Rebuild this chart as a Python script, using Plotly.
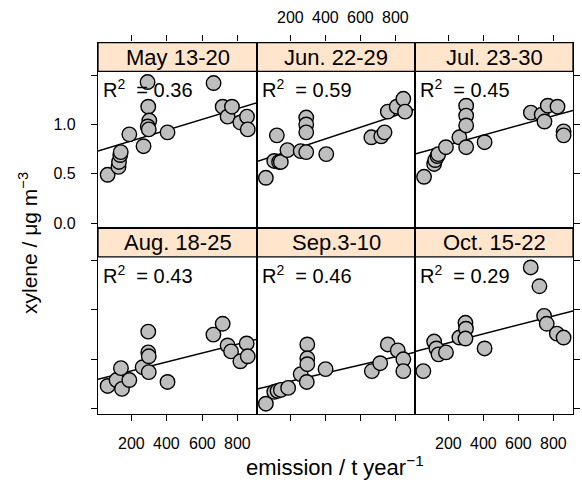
import plotly.graph_objects as go

PANELS = ["May 13-20", "Jun. 22-29", "Jul. 23-30", "Aug. 18-25", "Sep.3-10", "Oct. 15-22"]
R2 = ["0.36", "0.59", "0.45", "0.43", "0.46", "0.29"]

X_MAY = [61, 123, 126, 133, 136, 185, 266, 289, 293, 299, 290, 296, 403, 666, 718, 746, 771, 819, 857, 861]
Y_MAY = [0.49, 0.57, 0.62, 0.69, 0.72, 0.90, 0.78, 1.43, 1.18, 1.04, 0.98, 0.95, 0.92, 1.42, 1.18, 1.08, 1.18, 1.02, 1.08, 0.95]

X_JUN = [57, 105, 120, 133, 143, 181, 257, 289, 289, 289, 289, 404, 663, 720, 739, 758, 809, 847, 857]
Y_JUN = [0.46, 0.63, 0.89, 0.62, 0.62, 0.74, 0.73, 1.07, 1.00, 0.92, 0.72, 0.70, 0.87, 0.88, 0.92, 1.13, 1.18, 1.26, 1.13]

X_JUL = [58, 116, 122, 135, 140, 184, 261, 300, 300, 300, 300, 406, 672, 734, 750, 769, 825, 860, 860]
Y_JUL = [0.47, 0.60, 0.64, 0.68, 0.70, 0.77, 0.87, 1.19, 1.09, 0.99, 0.77, 0.82, 1.12, 1.10, 1.03, 1.19, 1.18, 0.93, 0.89]

X_AUG = [61, 112, 137, 143, 185, 261, 293, 293, 296, 296, 403, 665, 718, 746, 766, 819, 855, 861]
Y_AUG = [0.23, 0.29, 0.41, 0.20, 0.29, 0.42, 0.78, 0.57, 0.53, 0.37, 0.27, 0.75, 0.86, 0.64, 0.58, 0.48, 0.66, 0.53]

X_SEP = [57, 105, 124, 143, 185, 257, 295, 295, 295, 292, 400, 666, 714, 758, 815, 847, 847]
Y_SEP = [0.05, 0.17, 0.18, 0.19, 0.21, 0.35, 0.65, 0.51, 0.45, 0.27, 0.40, 0.38, 0.46, 0.65, 0.59, 0.50, 0.38]

X_OCT = [54, 116, 129, 141, 184, 261, 296, 299, 296, 406, 671, 721, 748, 763, 821, 860]
Y_OCT = [0.38, 0.68, 0.61, 0.55, 0.57, 0.72, 0.87, 0.81, 0.71, 0.61, 1.43, 1.24, 0.94, 0.86, 0.76, 0.72]

FIT_INTERCEPT = [0.728, 0.622, 0.697, 0.296, 0.196, 0.577]
FIT_SLOPE = [0.000538, 0.000582, 0.000488, 0.000445, 0.000412, 0.000452]

XTICKS = [200, 400, 600, 800]
XTICK_LABELS = ["200", "400", "600", "800"]
YTICKS = [0.0, 0.5, 1.0, 1.5]
YTICK_LABELS = ["0.0", "0.5", "1.0", ""]

XS = [X_MAY, X_JUN, X_JUL, X_AUG, X_SEP, X_OCT]
YS = [Y_MAY, Y_JUN, Y_JUL, Y_AUG, Y_SEP, Y_OCT]

# layout geometry (pixels)
W, H = 582, 486
COL_EDGES = [98, 257, 415, 573]
ROW_TOP = [43, 230]      # strip tops
ROW_BOTTOM = [230, 417]  # panel bottoms
X_RANGE = [6, 914]
Y_RANGE = [-0.05, 1.829]
STRIP_LOW = 1.538
TOP_LABEL_Y = 18      # px, centre of top tick labels
BOTTOM_LABEL_Y = 447  # px, centre of bottom tick labels

FONT = "Arial, Liberation Sans, sans-serif"
STRIP_COLOR = "#FFE5CC"
POINT_COLOR = "#BEBEBE"
LW = 1.3

fig = go.Figure()
layout = dict(
    width=W, height=H, margin=dict(l=0, r=0, t=0, b=0),
    paper_bgcolor="white", plot_bgcolor="white", showlegend=False,
    font=dict(family=FONT, color="black", size=16),
)
shapes = []
annotations = []

for i in range(6):
    row, col = divmod(i, 3)
    n = i + 1
    xa, ya = f"x{n}", f"y{n}"
    xkey = "xaxis" if n == 1 else f"xaxis{n}"
    ykey = "yaxis" if n == 1 else f"yaxis{n}"
    xref = "x" if n == 1 else f"x{n}"
    yref = "y" if n == 1 else f"y{n}"

    # regression line across panel limits
    lx = X_RANGE
    ly = [FIT_INTERCEPT[i] + FIT_SLOPE[i] * v for v in lx]
    fig.add_trace(go.Scatter(x=lx, y=ly, mode="lines", xaxis=xa, yaxis=ya,
                             line=dict(color="black", width=1.5), hoverinfo="skip"))
    fig.add_trace(go.Scatter(x=XS[i], y=YS[i], mode="markers", xaxis=xa, yaxis=ya,
                             marker=dict(size=14.5, color=POINT_COLOR,
                                         line=dict(color="black", width=1.4))))

    x0p = COL_EDGES[col] / W
    x1p = COL_EDGES[col + 1] / W
    y0p = 1 - ROW_BOTTOM[row] / H
    y1p = 1 - ROW_TOP[row] / H

    top_row = row == 0
    show_xlabels = (col == 1) if top_row else (col != 1)
    layout[xkey] = dict(
        domain=[x0p, x1p], anchor=yref, range=X_RANGE, side="top" if top_row else "bottom",
        showgrid=False, zeroline=False, showline=True, mirror=True,
        linecolor="black", linewidth=LW,
        ticks="outside", ticklen=6, tickwidth=1.4, tickcolor="black",
        tickvals=XTICKS, showticklabels=False,
    )
    if show_xlabels:
        ly_px = TOP_LABEL_Y if top_row else BOTTOM_LABEL_Y
        for tv, tt in zip(XTICKS, XTICK_LABELS):
            annotations.append(dict(xref=xref, yref="paper", x=tv, y=1 - ly_px / H,
                                    text=tt, showarrow=False, font=dict(size=16),
                                    xanchor="center", yanchor="middle"))
    ydict = dict(
        domain=[y0p, y1p], anchor=xref, range=Y_RANGE,
        showgrid=False, zeroline=False, showline=True, mirror=True,
        linecolor="black", linewidth=LW, tickfont=dict(size=16),
    )
    if col == 0:
        ydict.update(side="left", ticks="outside", ticklen=6, tickwidth=1.4, tickcolor="black",
                     tickvals=YTICKS, showticklabels=top_row,
                     ticktext=YTICK_LABELS, ticklabelstandoff=12)
    elif col == 2:
        ydict.update(side="right", ticks="outside", ticklen=6, tickwidth=1.4, tickcolor="black",
                     tickvals=YTICKS, showticklabels=False)
    else:
        ydict.update(ticks="", showticklabels=False)
    layout[ykey] = ydict

    # strip
    shapes.append(dict(type="rect", xref=f"{xref} domain", yref=yref,
                       x0=0, x1=1, y0=STRIP_LOW, y1=Y_RANGE[1],
                       fillcolor=STRIP_COLOR, line=dict(color="black", width=LW), layer="below"))
    annotations.append(dict(xref=f"{xref} domain", yref=yref, x=0.5,
                            y=(STRIP_LOW + Y_RANGE[1]) / 2, text=PANELS[i], showarrow=False,
                            font=dict(size=22), xanchor="center", yanchor="middle"))
    annotations.append(dict(xref=f"{xref} domain", yref=yref, x=0.02, y=1.36,
                            text=f"R<sup>2</sup> &nbsp;= {R2[i]}", showarrow=False,
                            font=dict(size=20), xanchor="left", yanchor="middle"))

annotations.append(dict(xref="paper", yref="paper", x=28 / W, y=1 - 245 / H,
                        text="xylene / \u03bcg m<sup>\u22123</sup>", textangle=-90, showarrow=False,
                        font=dict(size=21), xanchor="center", yanchor="middle"))
annotations.append(dict(xref="paper", yref="paper", x=335 / W, y=1 - 470 / H,
                        text="emission / t year<sup>\u22121</sup>", showarrow=False,
                        font=dict(size=22), xanchor="center", yanchor="middle"))

layout["shapes"] = shapes
layout["annotations"] = annotations
fig.update_layout(**layout)
fig.write_html("out.html")
